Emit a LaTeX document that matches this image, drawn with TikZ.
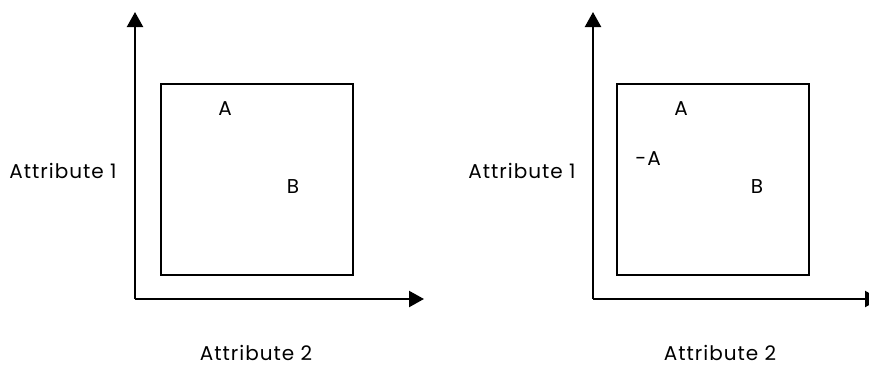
\documentclass[tikz,border=0pt]{standalone}
\usepackage{fontspec}
\setmainfont{Poppins}[LetterSpace=5]
\usetikzlibrary{calc, positioning}
\usetikzlibrary{arrows.meta}

\begin{document}
\begin{tikzpicture}[x=1pt, y=-1pt,
  axis/.style={line width=2.2pt, -{Triangle[length=15pt, width=16pt]}},
  box/.style={line width=2.2pt},
  lbl/.style={font=\fontsize{20}{23}\selectfont, inner sep=0pt}]
\useasboundingbox (0,0) rectangle (869,367);
\clip (0,0) rectangle (869,367);
% left panel
\coordinate (o1) at (135,299);
\coordinate (y1) at (135,12);
\coordinate (x1) at (424,299);
\draw[axis] (o1) -- (y1);
\draw[axis] (o1) -- (x1);
\draw[box] (161,84) rectangle (353,275);
\node[lbl] (a1) at (225,109) {A};
\node[lbl] (b1) at (293,187) {B};
\node[lbl] (attr11) at (63,171) {Attribute 1};
\node[lbl, anchor=base] (attr21) at (256,360) {Attribute 2};
% right panel
\coordinate (o2) at (593,299);
\coordinate (y2) at (593,12);
\coordinate (x2) at (880,299);
\draw[axis] (o2) -- (y2);
\draw[axis] (o2) -- (x2);
\draw[box] (617,84) rectangle (809,275);
\node[lbl] (a2) at (681,109) {A};
\node[lbl] (na2) at (648,159) {-A};
\node[lbl] (b2) at (757,187) {B};
\node[lbl] (attr12) at (522,171) {Attribute 1};
\node[lbl, anchor=base] (attr22) at (720,360) {Attribute 2};
\end{tikzpicture}
\end{document}
